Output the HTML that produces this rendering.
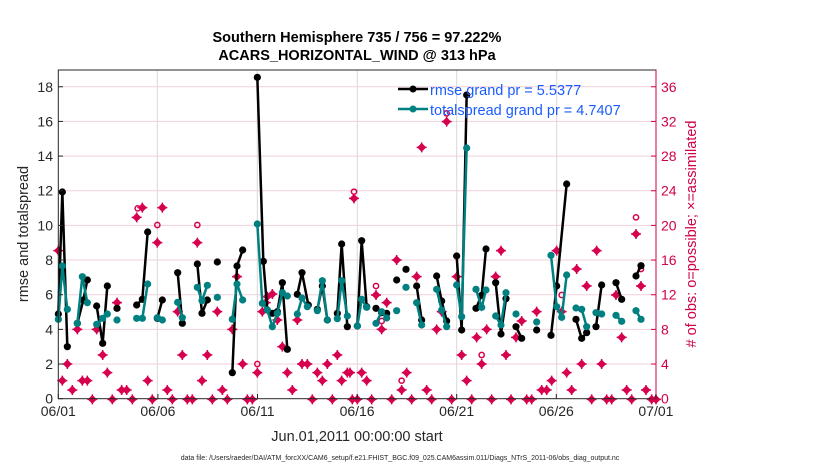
<!DOCTYPE html>
<html><head><meta charset="utf-8"><style>
body{margin:0;background:#fff;width:830px;height:470px;overflow:hidden;font-family:"Liberation Sans",sans-serif}
</style></head><body>
<svg id="s" width="830" height="470" xmlns="http://www.w3.org/2000/svg" font-family="Liberation Sans, sans-serif">
<rect width="830" height="470" fill="#fff"/>
<g id="grid"></g>
<g id="pink"></g>
<g id="lines"></g>
<rect x="58.3" y="70" width="597.7" height="328.7" fill="none" stroke="#262626" stroke-width="1"/>
<line x1="656" y1="70" x2="656" y2="398.7" stroke="#d0004a" stroke-width="1"/>
<g id="ticks"></g>
<text x="357" y="42" font-size="14.5" font-weight="bold" text-anchor="middle">Southern Hemisphere 735 / 756 = 97.222%</text>
<text x="357" y="60" font-size="14.5" font-weight="bold" text-anchor="middle">ACARS_HORIZONTAL_WIND @ 313 hPa</text>
<text x="357" y="441" font-size="14.5" text-anchor="middle" fill="#262626">Jun.01,2011 00:00:00 start</text>
<text x="400" y="460" font-size="7" text-anchor="middle" fill="#262626">data file: /Users/raeder/DAI/ATM_forcXX/CAM6_setup/f.e21.FHIST_BGC.f09_025.CAM6assim.011/Diags_NTrS_2011-06/obs_diag_output.nc</text>
<text transform="translate(28,234) rotate(-90)" font-size="14.5" text-anchor="middle" fill="#262626">rmse and totalspread</text>
<text transform="translate(696,234) rotate(-90)" font-size="14.5" text-anchor="middle" fill="#d0004a"># of obs: o=possible; ×=assimilated</text>
<line x1="398" y1="89" x2="428" y2="89" stroke="#000" stroke-width="2.5"/><circle cx="413" cy="89" r="3.5"/>
<text x="430" y="95" font-size="14.5" fill="#1a5cff">rmse grand pr = 5.5377</text>
<line x1="398" y1="109" x2="428" y2="109" stroke="#008080" stroke-width="2.5"/><circle cx="413" cy="109" r="3.5" fill="#008080"/>
<text x="430" y="115" font-size="14.5" fill="#1a5cff">totalspread grand pr = 4.7407</text>
</svg>
<script>
var NS="http://www.w3.org/2000/svg";
function el(p,t,a,txt){var e=document.createElementNS(NS,t);for(var k in a)e.setAttribute(k,a[k]);if(txt!==undefined)e.textContent=txt;document.getElementById(p).appendChild(e);return e;}
var y0=398.7,u=17.33;
for(var v=2;v<=18;v+=2){var y=y0-v*u;el('grid','line',{x1:58.3,x2:656,y1:y,y2:y,stroke:'#f2d0dc','stroke-width':1});}
[157.3,257.3,357.3,456.7,556.7].forEach(function(x){el('grid','line',{x1:x,x2:x,y1:70,y2:398.7,stroke:'#d8d8d8','stroke-width':1});});
for(var v=0;v<=18;v+=2){var y=y0-v*u;el('ticks','line',{x1:58.3,x2:63,y1:y,y2:y,stroke:'#262626'});el('ticks','line',{x1:651,x2:656,y1:y,y2:y,stroke:'#d0004a'});
el('ticks','text',{x:53,y:y+5,'font-size':14,'text-anchor':'end',fill:'#262626'},''+v);
el('ticks','text',{x:661,y:y+5,'font-size':14,fill:'#d0004a'},''+(v*2));}
var xl=['06/01','06/06','06/11','06/16','06/21','06/26','07/01'];
for(var i=0;i<7;i++){var x=58.3+i*99.6;el('ticks','text',{x:x,y:416,'font-size':14,'text-anchor':'middle',fill:'#262626'},xl[i]);el('ticks','line',{x1:x,x2:x,y1:398.7,y2:394,stroke:'#262626'});}
function c1(p){return [55+p[0]/3,60+p[1]/3];}
function c2(p){return [350+p[0]/3,60+p[1]/3];}
function series(segs,conv,col){segs.forEach(function(s){var pts=s.map(conv);
if(pts.length>1)el('lines','polyline',{points:pts.map(function(q){return q.join(',')}).join(' '),fill:'none',stroke:col,'stroke-width':2.5});
pts.forEach(function(q){el('lines','circle',{cx:q[0],cy:q[1],r:3.6,fill:col});});});}
var b1=[[[10,762],[22,396],[37,860]],[[67,790],[85,720],[97,660]],[[125,738],[143,850],[157,678]],[[186,745]],[[245,735],[262,718],[278,516]],[[307,775],[322,720]],[[368,638],[382,790]],[[427,612],[441,760],[457,720]],[[487,606]],[[532,938],[546,618],[563,570]],[[607,52],[625,604],[637,750],[652,760],[667,755],[682,668],[697,868]],[[727,703],[741,638],[760,735]],[[787,748],[802,678],[817,780]],[[847,760],[860,552],[877,800]]];
var t1=[[[10,778],[22,618],[37,748]],[[67,790],[82,650],[97,728]],[[125,793],[143,775],[157,762]],[[186,780]],[[245,775],[262,775],[278,672]],[[307,773],[322,780]],[[368,727],[382,773]],[[427,682],[441,722],[457,676]],[[487,712]],[[532,778],[546,672],[563,720]],[[607,492],[622,730],[637,750],[652,800],[667,760],[682,698],[697,708]],[[727,762],[741,714],[757,740]],[[787,752],[802,662],[817,780]],[[847,776],[860,662],[877,768]]];
var b2=[[[22,798],[35,542],[50,740]],[[78,745],[95,758],[110,760]],[[140,660]],[[168,628]],[[200,678],[215,780]],[[260,648],[275,723],[290,783]],[[320,588],[335,810],[350,105]],[[378,745],[395,706],[408,567]],[[437,668],[453,822],[468,716]],[[498,800],[515,835]],[[560,810]],[[603,826],[620,678],[650,372]],[[678,778],[695,835],[710,818]],[[738,800],[755,675]],[[798,668],[815,718]],[[858,648],[873,617]]];
var t2=[[[22,798],[35,718],[50,742]],[[78,790],[95,755],[110,774]],[[140,752]],[[168,682]],[[200,728],[215,795]],[[260,688],[275,750],[290,800]],[[320,675],[335,770],[350,264]],[[378,688],[395,742],[408,690]],[[437,768],[453,795],[468,698]],[[498,762]],[[560,786]],[[603,586],[620,740],[635,772],[650,645]],[[678,744],[695,748],[710,800]],[[738,758],[755,762]],[[798,766],[815,784]],[[858,752],[873,778]]];
var P='#d6004f';
function star(q){var x=q[0],y=q[1];el('pink','path',{d:'M'+x+' '+(y-4.5)+'L'+(x+4.5)+' '+y+'L'+x+' '+(y+4.5)+'L'+(x-4.5)+' '+y+'Z',fill:P});
el('pink','path',{d:'M'+(x-5)+' '+y+'H'+(x+5)+'M'+x+' '+(y-5)+'V'+(y+5),stroke:P,'stroke-width':1.5});}
function ring(q){el('pink','circle',{cx:q[0],cy:q[1],r:2.6,fill:'none',stroke:P,'stroke-width':1.5});}
var p1=[[10,572],[22,962],[37,912],[52,990],[82,962],[97,962],[112,1018],[67,808],[125,808],[143,885],[157,938],[172,1018],[186,728],[200,990],[215,990],[232,1018],[245,472],[262,443],[278,962],[292,1018],[307,548],[322,443],[337,990],[352,1018],[368,755],[382,885],[397,1018],[412,1018],[427,548],[441,962],[457,885],[472,1018],[487,755],[502,990],[517,1018],[532,808],[546,650],[563,912],[577,1018],[592,1018],[607,938],[622,755],[632,728],[637,710],[652,702],[667,780],[682,860],[697,938],[712,990],[727,780],[741,912],[757,912],[772,1018],[787,938],[802,962],[817,912],[832,1018],[847,885],[860,962],[877,938],[892,1018],[897,415]];
var o1=[[248,445],[307,495],[427,495],[607,912],[667,755],[897,395]];
var p2=[[0,938],[22,1018],[35,938],[50,962],[65,1018],[78,705],[95,808],[110,728],[125,1018],[140,600],[155,990],[170,938],[185,1018],[200,650],[215,262],[230,990],[245,1018],[260,808],[275,755],[290,185],[305,1018],[320,650],[335,885],[350,962],[365,1018],[380,832],[395,912],[410,808],[425,1018],[437,650],[453,572],[468,885],[483,1018],[498,832],[515,783],[530,1018],[545,1018],[560,755],[575,990],[590,990],[605,962],[620,572],[635,755],[650,938],[665,990],[680,627],[695,912],[710,678],[725,1018],[740,572],[755,912],[770,1018],[785,1018],[798,705],[815,832],[830,990],[845,1018],[858,522],[873,678],[888,990],[905,1018],[918,1018]];
var o2=[[78,678],[95,783],[155,962],[290,160],[395,885],[635,705],[858,472],[873,627]];
p1.forEach(function(p){star(c1(p))});o1.forEach(function(p){ring(c1(p))});
p2.forEach(function(p){star(c2(p))});o2.forEach(function(p){ring(c2(p))});
series(b1,c1,'#000');series(t1,c1,'#008080');series(b2,c2,'#000');series(t2,c2,'#008080');
</script>
</body></html>
